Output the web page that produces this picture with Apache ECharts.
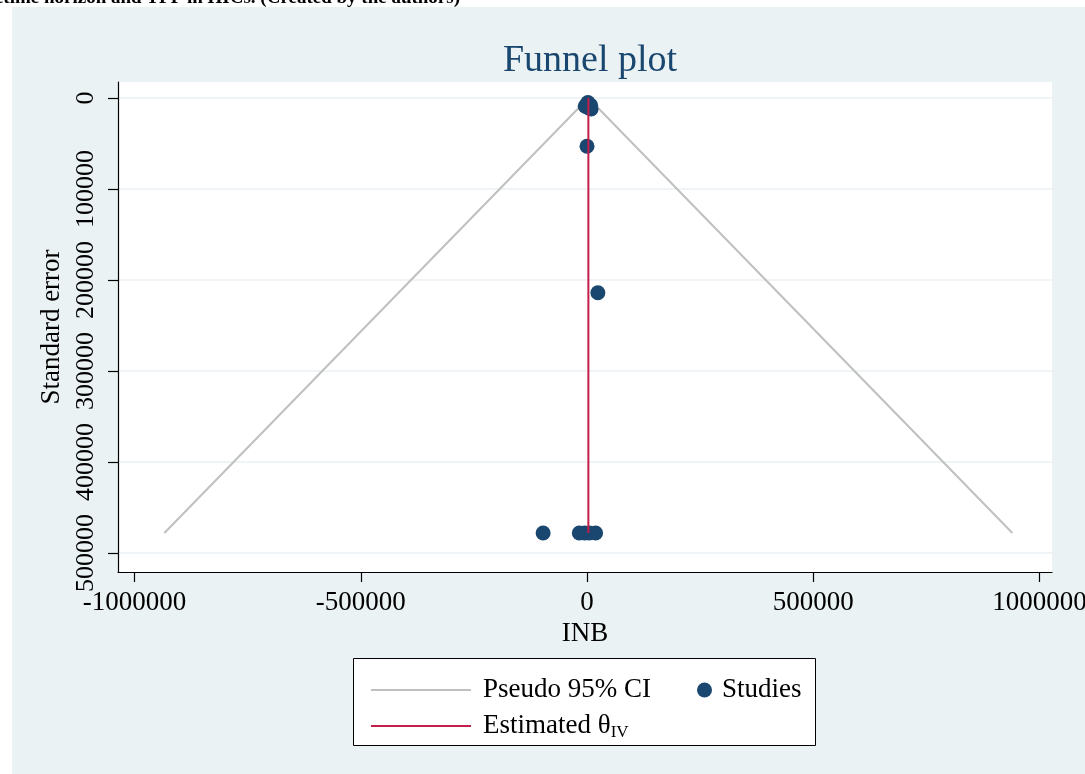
<!DOCTYPE html>
<html>
<head>
<meta charset="utf-8">
<title>Funnel plot</title>
<script src="https://cdn.jsdelivr.net/npm/echarts@6/dist/echarts.min.js"></script>
<style>
  html, body { margin: 0; padding: 0; background: #ffffff; }
  #chart { width: 1085px; height: 774px; }
</style>
</head>
<body>
<div id="chart"></div>
<script>
// Tick values on each axis
const xTicks = [-1000000, -500000, 0, 500000, 1000000];
const yTicks = [0, 100000, 200000, 300000, 400000, 500000];

// Study estimates: [INB, standard error]
const studies = [
  [-4000, 9000], [0, 7000], [4000, 11000], [8000, 8000], [9000, 12000], [2000, 5000],
  [0, 53000],
  [24000, 214000],
  [-97000, 478000], [-17000, 478000], [-5000, 478000], [5000, 478000], [19000, 478000]
];

// Pseudo 95% confidence limits (left edge, apex, right edge)
const ciLimits = [[-934000, 478000], [3000, 0], [940000, 478000]];

// Pooled inverse-variance estimate
const estimateLine = [[3000, 0], [3000, 478000]];

const serif = "'Liberation Serif', 'Times New Roman', serif";
const navy = '#1A476F';
const bg = '#EAF2F3';

const chart = echarts.init(document.getElementById('chart'), null, { renderer: 'canvas' });

chart.setOption({
  animation: false,
  backgroundColor: '#ffffff',
  textStyle: { fontFamily: serif },
  graphic: [
    { type: 'rect', z: -10, shape: { x: 12, y: 7, width: 1073, height: 767 }, style: { fill: bg } },
    { type: 'text', z: 5, x: -22, y: 7.5,
      style: { text: 'lifetime horizon and TPP in HICs. (Created by the authors)',
               font: 'bold 19px ' + serif, fill: '#000', textVerticalAlign: 'bottom' } },
    { type: 'rect', z: 1, shape: { x: 353.5, y: 658.5, width: 462, height: 87 },
      style: { fill: '#ffffff', stroke: '#000000', lineWidth: 1 } }
  ],
  title: {
    text: 'Funnel plot',
    left: 585, textAlign: 'center', top: 37,
    textStyle: { fontFamily: serif, fontSize: 38, fontWeight: 'normal', color: navy }
  },
  legend: [
    {
      data: ['Pseudo 95% CI', 'Estimated θIV'],
      orient: 'vertical', left: 365, top: 670,
      itemWidth: 100, itemHeight: 14, itemGap: 6,
      itemStyle: { opacity: 0 },
      selectedMode: false, z: 3,
      formatter: function (name) {
        return name === 'Estimated θIV' ? 'Estimated θ{s|IV}' : name;
      },
      textStyle: {
        fontFamily: serif, fontSize: 27, color: '#000', lineHeight: 30,
        padding: [0, 0, 0, 7],
        rich: { s: { fontFamily: serif, fontSize: 17, lineHeight: 30, verticalAlign: 'bottom', padding: [8, 0, 0, 0] } }
      }
    },
    {
      data: ['Studies'],
      orient: 'vertical', left: 692, top: 670,
      itemWidth: 15, itemHeight: 15, icon: 'circle',
      selectedMode: false, z: 3,
      textStyle: { fontFamily: serif, fontSize: 27, color: '#000', lineHeight: 30, padding: [0, 0, 0, 5] }
    }
  ],
  grid: { left: 118, top: 82, width: 934, height: 490, outerBoundsMode: 'none', backgroundColor: '#ffffff', show: true, borderWidth: 0 },
  xAxis: {
    type: 'value', min: -1036500, max: 1027600,
    name: 'INB', nameLocation: 'middle', nameGap: 44,
    nameTextStyle: { fontFamily: serif, fontSize: 27, color: '#000' },
    axisLine: { onZero: false, lineStyle: { color: '#000', width: 1.2 } },
    axisTick: { show: true, length: 10, customValues: xTicks, lineStyle: { color: '#000', width: 1.2 } },
    axisLabel: { customValues: xTicks, margin: 17, fontFamily: serif, fontSize: 27, color: '#000',
                 formatter: function (v) { return String(v); } },
    splitLine: { show: false }
  },
  yAxis: {
    type: 'value', inverse: true, min: -17600, max: 520900,
    name: 'Standard error', nameLocation: 'middle', nameGap: 36,
    nameTextStyle: { fontFamily: serif, fontSize: 27, color: '#000' },
    axisLine: { onZero: false, lineStyle: { color: '#000', width: 1.2 } },
    axisTick: { show: true, length: 10, customValues: yTicks, lineStyle: { color: '#000', width: 1.2 } },
    axisLabel: { customValues: yTicks, rotate: 90, margin: 19, fontFamily: serif, fontSize: 26, color: '#000',
                 formatter: function (v) { return String(v); } },
    splitLine: { show: true, lineStyle: { color: bg, width: 1.5 } }
  },
  series: [
    {
      name: 'Pseudo 95% CI', type: 'line', data: ciLimits,
      symbol: 'none', z: 2,
      lineStyle: { color: '#C0C0C0', width: 2 }, itemStyle: { color: '#C0C0C0' }
    },
    {
      name: 'Studies', type: 'scatter', data: studies,
      symbol: 'circle', symbolSize: 15, z: 3,
      itemStyle: { color: navy, opacity: 1 }
    },
    {
      name: 'Estimated θIV', type: 'line', data: estimateLine,
      symbol: 'none', z: 4,
      lineStyle: { color: '#C41E4A', width: 2 }, itemStyle: { color: '#C41E4A' }
    }
  ]
});
</script>
</body>
</html>
